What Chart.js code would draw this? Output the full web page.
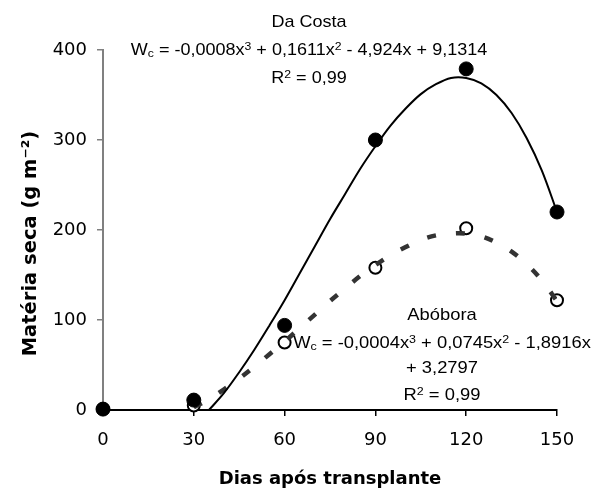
<!DOCTYPE html>
<html>
<head>
<meta charset="utf-8">
<script src="https://cdn.jsdelivr.net/npm/chart.js@4"></script>
<style>
  html, body { margin: 0; padding: 0; background: #fff; }
  #wrap { width: 594px; height: 492px; }
</style>
</head>
<body>
<div id="wrap"><canvas id="chart" width="594" height="492"></canvas></div>
<script>
// ---- data ----
const days = [0, 30, 60, 90, 120, 150];
const daCostaValues = [1, 11, 94, 300, 379, 220];
const aboboraValues = [1, 5, 75, 158, 202, 122];

// fitted curves, every 5 days
const daCostaFitDays = [35, 40, 45, 50, 55, 60, 65, 70, 75, 80, 85, 90, 95, 100, 105, 110, 115, 120, 125, 130, 135, 140, 145, 150];
const daCostaFitValues = [0, 19, 42, 67, 94, 122, 152, 182, 212, 240, 268, 293, 316, 335, 351, 362, 369, 369, 363, 350, 330, 302, 266, 220];
const aboboraFitDays = [30, 35, 40, 45, 50, 55, 60, 65, 70, 75, 80, 85, 90, 95, 100, 105, 110, 115, 120, 125, 130, 135, 140, 145, 150];
const aboboraFitValues = [3, 12, 23, 35, 48, 62, 76, 91, 106, 121, 135, 149, 161, 172, 181, 189, 194, 196, 196, 193, 186, 176, 162, 144, 121];

const xTicks = [0, 30, 60, 90, 120, 150];
const yTicks = [0, 100, 200, 300, 400];

const xTitle = 'Dias após transplante';
const yTitle = 'Matéria seca (g m⁻²)\u00a0\u00a0\u00a0\u00a0';
const daCostaLabel = ['Da Costa', 'W_{c} = -0,0008x^{3} + 0,1611x^{2} - 4,924x + 9,1314', 'R^{2} = 0,99'];
const aboboraLabel = ['Abóbora', 'W_{c} = -0,0004x^{3} + 0,0745x^{2} - 1,8916x', '+ 3,2797', 'R^{2} = 0,99'];

// ---- helpers ----
const pts = (xs, ys) => xs.map((x, i) => ({ x: x, y: ys[i] }));

function parseRich(str) {
  const runs = [];
  const re = /(\^|_)\{([^}]*)\}/g;
  let last = 0, m;
  while ((m = re.exec(str)) !== null) {
    if (m.index > last) runs.push({ t: str.slice(last, m.index), s: null });
    runs.push({ t: m[2], s: m[1] === '^' ? 'sup' : 'sub' });
    last = re.lastIndex;
  }
  if (last < str.length) runs.push({ t: str.slice(last), s: null });
  return runs;
}

function drawRich(ctx, str, cx, baseY, size, kx) {
  const runs = parseRich(str);
  const small = size * 0.68;
  const fam = '"Liberation Sans", Arial, sans-serif';
  let w = 0;
  runs.forEach(r => {
    ctx.font = (r.s ? small : size) + 'px ' + fam;
    r.w = ctx.measureText(r.t).width;
    w += r.w;
  });
  ctx.save();
  ctx.translate(cx - (w * kx) / 2, baseY);
  ctx.scale(kx, 1);
  ctx.fillStyle = '#000';
  ctx.textBaseline = 'alphabetic';
  ctx.textAlign = 'left';
  let x = 0;
  runs.forEach(r => {
    ctx.font = (r.s ? small : size) + 'px ' + fam;
    const dy = r.s === 'sup' ? -size * 0.32 : (r.s === 'sub' ? size * 0.14 : 0);
    ctx.fillText(r.t, x, dy);
    x += r.w;
  });
  ctx.restore();
}

const labelPlugin = {
  id: 'equationLabels',
  afterDraw(chart) {
    const ctx = chart.ctx;
    const dcBase = [27, 55, 83];
    daCostaLabel.forEach((s, i) => drawRich(ctx, s, 309, dcBase[i], 17, 1.06));
    const abBase = [320, 348, 373, 400];
    aboboraLabel.forEach((s, i) => drawRich(ctx, s, 442, abBase[i], 17, 1.08));
  }
};

const tickFont = { family: '"DejaVu Sans", sans-serif', size: 18 };
const titleFont = { family: '"DejaVu Sans", sans-serif', size: 18, weight: 'bold' };
const yTitleFont = { family: '"DejaVu Sans", sans-serif', size: 19.5, weight: 'bold' };

new Chart(document.getElementById('chart'), {
  type: 'scatter',
  data: {
    datasets: [
      {
        label: 'Da Costa (pontos)',
        data: pts(days, daCostaValues),
        pointRadius: 7,
        pointHoverRadius: 7,
        pointBackgroundColor: '#000',
        pointBorderColor: '#000',
        pointBorderWidth: 1,
        showLine: false,
        clip: false,
        order: 1
      },
      {
        label: 'Da Costa (ajuste)',
        data: pts(daCostaFitDays, daCostaFitValues),
        showLine: true,
        pointRadius: 0,
        borderColor: '#000',
        borderWidth: 2,
        tension: 0.35,
        fill: false,
        order: 2
      },
      {
        label: 'Abóbora (ajuste)',
        data: pts(aboboraFitDays, aboboraFitValues),
        showLine: true,
        pointRadius: 0,
        borderColor: '#333',
        borderWidth: 4.5,
        borderDash: [9, 20],
        tension: 0.35,
        fill: false,
        order: 3
      },
      {
        label: 'Abóbora (pontos)',
        data: pts(days, aboboraValues),
        pointRadius: 6,
        pointHoverRadius: 6,
        pointBackgroundColor: '#fff',
        pointBorderColor: '#000',
        pointBorderWidth: 2,
        showLine: false,
        clip: false,
        order: 4
      }
    ]
  },
  options: {
    responsive: false,
    animation: false,
    layout: { padding: { top: 50, right: 37, left: 0, bottom: 0 } },
    plugins: { legend: { display: false }, tooltip: { enabled: false } },
    scales: {
      x: {
        type: 'linear',
        min: 0, max: 150,
        afterBuildTicks: (s) => { s.ticks = xTicks.map(v => ({ value: v })); },
        afterFit: (s) => { s.height = 82; },
        ticks: { font: tickFont, color: '#000', padding: 14 },
        grid: { drawOnChartArea: false, drawTicks: true, tickLength: 6, color: '#000', lineWidth: 1.5 },
        border: { color: '#000', width: 2 },
        title: { display: true, text: xTitle, font: titleFont, color: '#000', padding: { top: 0, bottom: 2 } }
      },
      y: {
        type: 'linear',
        min: 0, max: 400,
        afterBuildTicks: (s) => { s.ticks = yTicks.map(v => ({ value: v })); },
        afterFit: (s) => { s.width = 103; },
        ticks: { font: tickFont, color: '#000', padding: 10 },
        grid: { drawOnChartArea: false, drawTicks: true, tickLength: 6, color: '#808080', lineWidth: 1.5 },
        border: { color: '#808080', width: 2 },
        title: { display: true, text: yTitle, font: yTitleFont, color: '#000', padding: { top: 19, bottom: 0 } }
      }
    }
  },
  plugins: [labelPlugin]
});
</script>
</body>
</html>
